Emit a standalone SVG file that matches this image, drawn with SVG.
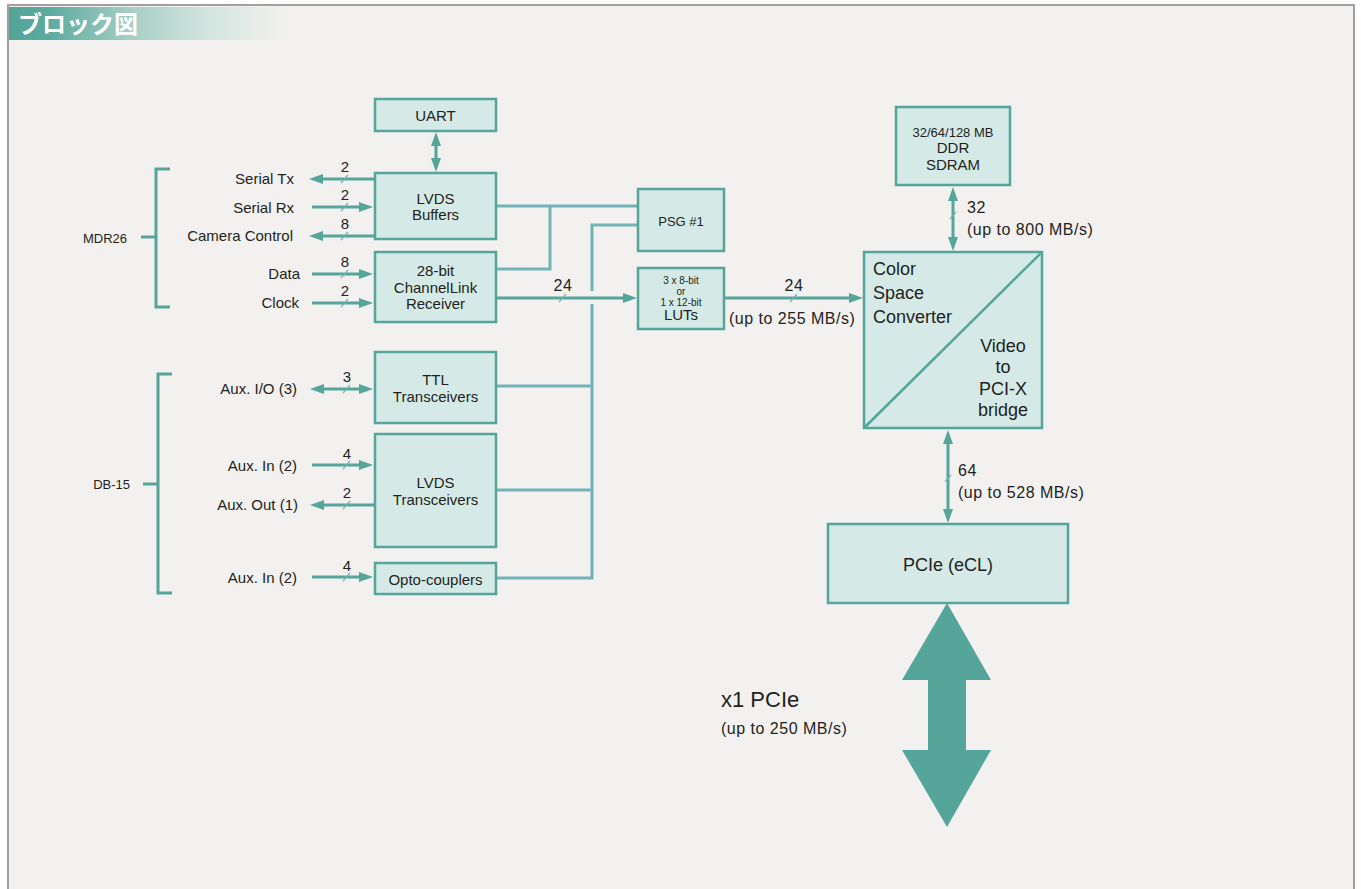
<svg xmlns="http://www.w3.org/2000/svg" width="1361" height="889" viewBox="0 0 1361 889">
  <defs>
    <linearGradient id="hdr" x1="9" y1="0" x2="285" y2="0" gradientUnits="userSpaceOnUse">
      <stop offset="0" stop-color="#52a396"/>
      <stop offset="0.15" stop-color="#5dab9f"/>
      <stop offset="0.45" stop-color="#a9cfc7"/>
      <stop offset="0.72" stop-color="#d2e4df"/>
      <stop offset="1" stop-color="#f2f1ef"/>
    </linearGradient>
    <marker id="ah" viewBox="0 0 14 10" refX="4" refY="5" markerWidth="14" markerHeight="10" markerUnits="userSpaceOnUse" orient="auto-start-reverse">
      <path d="M0,0 L14,5 L0,10 z" fill="#55a59a"/>
    </marker>
  </defs>
  <style>
    .box{fill:#d5eae7;stroke:#55a59a;stroke-width:2.5}
    .t{font-family:"Liberation Sans",Arial,sans-serif;font-size:15px;fill:#231f20}
    .c{text-anchor:middle}
    .e{text-anchor:end}
    .s10{font-size:10px}
    .s13{font-size:13px}
    .s18{font-size:18px}
    .s22{font-size:22px}
    .rate{font-size:16px;letter-spacing:0.5px}
    .sig{stroke:#55a59a;stroke-width:3;fill:none}
    .arr{marker-end:url(#ah)}
    .arr2{marker-start:url(#ah);marker-end:url(#ah)}
    .bus{stroke:#72b4b8;stroke-width:3;fill:none}
    .tick{stroke:#72b4b8;stroke-width:1.2}
    .brk{stroke:#55a59a;stroke-width:3;fill:none}
  </style>

  <!-- page frame -->
  <rect x="0" y="0" width="1361" height="889" fill="#ffffff"/>
  <rect x="8" y="5" width="1346" height="900" fill="#f2f1ef" stroke="#a0a0a0" stroke-width="2"/>

  <!-- title bar -->
  <rect x="9" y="7" width="280" height="33" fill="url(#hdr)"/>
  <text x="18" y="33" font-family="'Noto Sans CJK JP','Noto Sans CJK SC',sans-serif" font-size="24" font-weight="bold" fill="#ffffff">ブロック図</text>

  <!-- connector brackets -->
  <g id="mdr26">
    <path class="brk" d="M170,169 H156 V307 H170 M141,237 H156"/>
    <text class="t e s13" x="127" y="243">MDR26</text>
  </g>
  <g id="db15">
    <path class="brk" d="M172,374 H158 V593 H172 M143,484 H158"/>
    <text class="t e s13" x="130" y="489">DB-15</text>
  </g>

  <!-- connectors -->
  <g id="connectors">
    <!-- shared control bus -->
    <path class="bus" d="M496,206 H638"/>
    <path class="bus" d="M550,206 V269 H496"/>
    <path class="bus" d="M638,225 H592 V291"/>
    <path class="bus" d="M592,304 V578 H496"/>
    <path class="bus" d="M592,386 H496"/>
    <path class="bus" d="M592,490 H496"/>

    <!-- camera link side -->
    <line class="sig arr" x1="375" y1="179" x2="319" y2="179"/>
    <line class="sig arr" x1="312" y1="207" x2="363" y2="207"/>
    <line class="sig arr" x1="375" y1="236" x2="319" y2="236"/>
    <line class="sig arr" x1="312" y1="274" x2="363" y2="274"/>
    <line class="sig arr" x1="312" y1="303" x2="363" y2="303"/>
    <line class="sig arr2" x1="436" y1="142" x2="436" y2="162"/>

    <!-- aux I/O side -->
    <line class="sig arr2" x1="320" y1="389" x2="363" y2="389"/>
    <line class="sig arr" x1="312" y1="465" x2="363" y2="465"/>
    <line class="sig arr" x1="375" y1="505" x2="320" y2="505"/>
    <line class="sig arr" x1="312" y1="577" x2="363" y2="577"/>

    <!-- video path -->
    <line class="sig arr" x1="496" y1="298" x2="627" y2="298"/>
    <line class="sig arr" x1="724" y1="298" x2="853" y2="298"/>
    <line class="sig arr2" x1="953" y1="197" x2="953" y2="241"/>
    <line class="sig arr2" x1="948" y1="440" x2="948" y2="513"/>

    <!-- bus width ticks -->
    <line class="tick" x1="341" y1="183" x2="348" y2="175"/>
    <line class="tick" x1="341" y1="211" x2="348" y2="203"/>
    <line class="tick" x1="341" y1="240" x2="348" y2="232"/>
    <line class="tick" x1="341" y1="278" x2="348" y2="270"/>
    <line class="tick" x1="341" y1="307" x2="348" y2="299"/>
    <line class="tick" x1="343" y1="393" x2="350" y2="385"/>
    <line class="tick" x1="343" y1="469" x2="350" y2="461"/>
    <line class="tick" x1="343" y1="509" x2="350" y2="501"/>
    <line class="tick" x1="343" y1="581" x2="350" y2="573"/>
    <line class="tick" x1="559" y1="302" x2="566" y2="294"/>
    <line class="tick" x1="790" y1="302" x2="797" y2="294"/>
    <line class="tick" x1="950" y1="219" x2="956" y2="212"/>
    <line class="tick" x1="945" y1="482" x2="951" y2="475"/>

    <!-- width labels -->
    <text class="t c" x="345" y="172">2</text>
    <text class="t c" x="345" y="200">2</text>
    <text class="t c" x="345" y="229">8</text>
    <text class="t c" x="345" y="267">8</text>
    <text class="t c" x="345" y="296">2</text>
    <text class="t c" x="347" y="382">3</text>
    <text class="t c" x="347" y="459">4</text>
    <text class="t c" x="347" y="498">2</text>
    <text class="t c" x="347" y="571">4</text>
    <text class="t c rate" x="563" y="291">24</text>
    <text class="t c rate" x="794" y="291">24</text>
    <text class="t rate" x="729" y="324">(up to 255 MB/s)</text>
    <text class="t rate" x="967" y="213">32</text>
    <text class="t rate" x="967" y="235">(up to 800 MB/s)</text>
    <text class="t rate" x="958" y="476">64</text>
    <text class="t rate" x="958" y="498">(up to 528 MB/s)</text>

    <!-- signal names -->
    <text class="t e" x="294" y="184">Serial Tx</text>
    <text class="t e" x="294" y="213">Serial Rx</text>
    <text class="t e" x="293" y="241">Camera Control</text>
    <text class="t e" x="300" y="279">Data</text>
    <text class="t e" x="299" y="308">Clock</text>
    <text class="t e" x="297" y="394">Aux. I/O (3)</text>
    <text class="t e" x="297" y="471">Aux. In (2)</text>
    <text class="t e" x="298" y="510">Aux. Out (1)</text>
    <text class="t e" x="297" y="583">Aux. In (2)</text>
  </g>

  <!-- blocks -->
  <g id="uart">
    <rect class="box" x="375" y="99" width="121" height="32"/>
    <text class="t c" x="435.5" y="121">UART</text>
  </g>
  <g id="lvds-buffers">
    <rect class="box" x="375" y="173" width="121" height="66"/>
    <text class="t c" x="435.5" y="204">LVDS</text>
    <text class="t c" x="435.5" y="220">Buffers</text>
  </g>
  <g id="channellink">
    <rect class="box" x="375" y="252" width="121" height="70"/>
    <text class="t c" x="435.5" y="276">28-bit</text>
    <text class="t c" x="435.5" y="293">ChannelLink</text>
    <text class="t c" x="435.5" y="309">Receiver</text>
  </g>
  <g id="ttl">
    <rect class="box" x="375" y="352" width="121" height="71"/>
    <text class="t c" x="435.5" y="385">TTL</text>
    <text class="t c" x="435.5" y="402">Transceivers</text>
  </g>
  <g id="lvds-transceivers">
    <rect class="box" x="375" y="434" width="121" height="113"/>
    <text class="t c" x="435.5" y="488">LVDS</text>
    <text class="t c" x="435.5" y="505">Transceivers</text>
  </g>
  <g id="opto">
    <rect class="box" x="375" y="563" width="121" height="31"/>
    <text class="t c" x="435.5" y="585">Opto-couplers</text>
  </g>
  <g id="psg">
    <rect class="box" x="638" y="189" width="86" height="62"/>
    <text class="t c s13" x="681" y="226">PSG #1</text>
  </g>
  <g id="luts">
    <rect class="box" x="638" y="268" width="86" height="61"/>
    <text class="t c s10" x="681" y="284">3 x 8-bit</text>
    <text class="t c s10" x="681" y="295">or</text>
    <text class="t c s10" x="681" y="306">1 x 12-bit</text>
    <text class="t c" x="681" y="320">LUTs</text>
  </g>
  <g id="ddr">
    <rect class="box" x="896" y="107" width="114" height="78"/>
    <text class="t c s13" x="953" y="137">32/64/128 MB</text>
    <text class="t c" x="953" y="153">DDR</text>
    <text class="t c" x="953" y="170">SDRAM</text>
  </g>
  <g id="csc-bridge">
    <rect class="box" x="864" y="252" width="178" height="176"/>
    <line x1="865" y1="427" x2="1041" y2="253" stroke="#55a59a" stroke-width="2.5"/>
    <text class="t s18" x="873" y="275">Color</text>
    <text class="t s18" x="873" y="299">Space</text>
    <text class="t s18" x="873" y="323">Converter</text>
    <text class="t c s18" x="1003" y="352">Video</text>
    <text class="t c s18" x="1003" y="373">to</text>
    <text class="t c s18" x="1003" y="395">PCI-X</text>
    <text class="t c s18" x="1003" y="416">bridge</text>
  </g>
  <g id="pcie">
    <rect class="box" x="828" y="524" width="240" height="79"/>
    <text class="t c s18" x="948" y="571">PCIe (eCL)</text>
  </g>
  <g id="host-link">
    <polygon points="947,603 991,680 966,680 966,750 991,750 947,827 902,750 928,750 928,680 902,680" fill="#55a59a"/>
    <text class="t s22" x="721" y="707">x1 PCIe</text>
    <text class="t rate" x="721" y="734">(up to 250 MB/s)</text>
  </g>
</svg>
